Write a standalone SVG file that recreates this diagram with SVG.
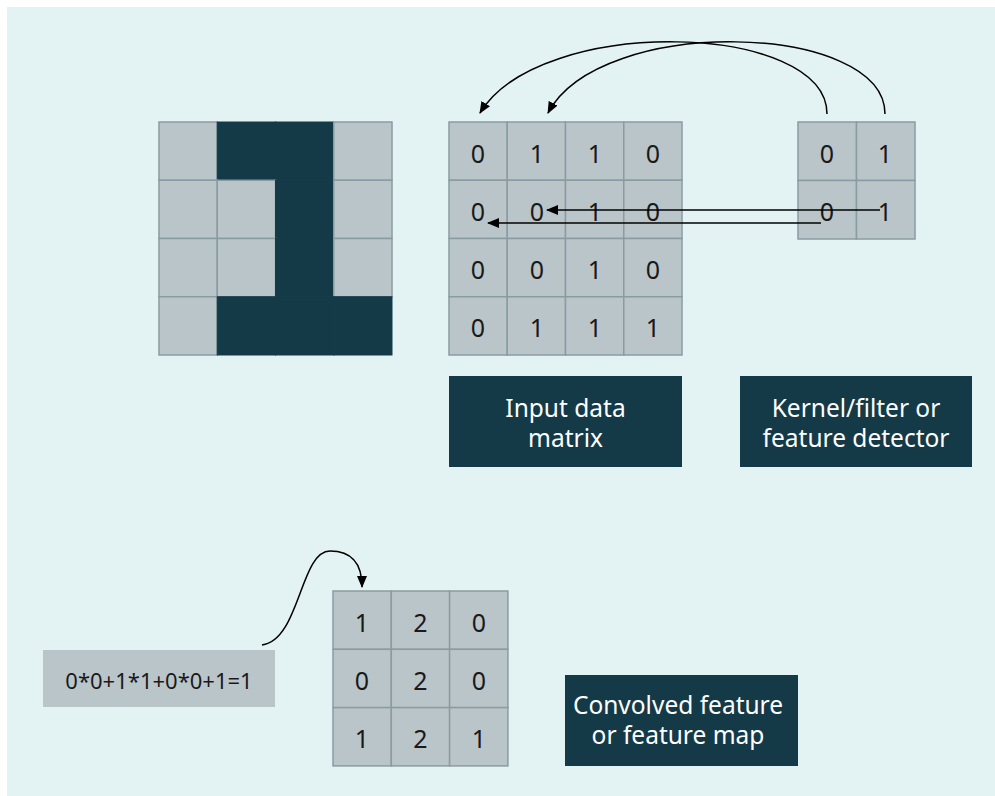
<svg xmlns="http://www.w3.org/2000/svg" width="995" height="796" viewBox="0 0 995 796">
<style>
.bg{fill:#E3F2F3}
.cell{fill:#BAC5C9;stroke:#8A9CA3;stroke-width:1.5}
.dark{fill:#143A48;stroke:#143A48;stroke-width:1}
.num{font-family:"Noto Sans","Open Sans",sans-serif;font-size:25px;fill:#1A1A1A;text-anchor:middle;dominant-baseline:central}
.lbl{font-family:"Noto Sans","Open Sans",sans-serif;font-size:24.5px;fill:#FFFFFF;text-anchor:middle}
.formula{font-family:"Noto Sans","Open Sans",sans-serif;font-size:22px;fill:#1A1A1A;text-anchor:middle;dominant-baseline:central}
.conn{fill:none;stroke:#000;stroke-width:1.5}
</style>
<defs>
<marker id="ah" viewBox="0 0 12 10" refX="11" refY="5" markerWidth="12" markerHeight="10" markerUnits="userSpaceOnUse" orient="auto">
<path d="M0,0 L12,5 L0,10 Z" fill="#000"/>
</marker>
</defs>
<rect class="bg" x="7" y="7" width="988" height="789"/>

<g id="image-one">
<rect class="cell" x="159" y="122" width="58.25" height="58.25"/>
<rect class="dark" x="217.25" y="122" width="58.25" height="58.25"/>
<rect class="dark" x="275.5" y="122" width="58.25" height="58.25"/>
<rect class="cell" x="333.75" y="122" width="58.25" height="58.25"/>
<rect class="cell" x="159" y="180.25" width="58.25" height="58.25"/>
<rect class="cell" x="217.25" y="180.25" width="58.25" height="58.25"/>
<rect class="dark" x="275.5" y="180.25" width="58.25" height="58.25"/>
<rect class="cell" x="333.75" y="180.25" width="58.25" height="58.25"/>
<rect class="cell" x="159" y="238.5" width="58.25" height="58.25"/>
<rect class="cell" x="217.25" y="238.5" width="58.25" height="58.25"/>
<rect class="dark" x="275.5" y="238.5" width="58.25" height="58.25"/>
<rect class="cell" x="333.75" y="238.5" width="58.25" height="58.25"/>
<rect class="cell" x="159" y="296.75" width="58.25" height="58.25"/>
<rect class="dark" x="217.25" y="296.75" width="58.25" height="58.25"/>
<rect class="dark" x="275.5" y="296.75" width="58.25" height="58.25"/>
<rect class="dark" x="333.75" y="296.75" width="58.25" height="58.25"/>
</g>

<g id="input-matrix">
<rect class="cell" x="449" y="122" width="58.25" height="58.25"/>
<rect class="cell" x="507.25" y="122" width="58.25" height="58.25"/>
<rect class="cell" x="565.5" y="122" width="58.25" height="58.25"/>
<rect class="cell" x="623.75" y="122" width="58.25" height="58.25"/>
<rect class="cell" x="449" y="180.25" width="58.25" height="58.25"/>
<rect class="cell" x="507.25" y="180.25" width="58.25" height="58.25"/>
<rect class="cell" x="565.5" y="180.25" width="58.25" height="58.25"/>
<rect class="cell" x="623.75" y="180.25" width="58.25" height="58.25"/>
<rect class="cell" x="449" y="238.5" width="58.25" height="58.25"/>
<rect class="cell" x="507.25" y="238.5" width="58.25" height="58.25"/>
<rect class="cell" x="565.5" y="238.5" width="58.25" height="58.25"/>
<rect class="cell" x="623.75" y="238.5" width="58.25" height="58.25"/>
<rect class="cell" x="449" y="296.75" width="58.25" height="58.25"/>
<rect class="cell" x="507.25" y="296.75" width="58.25" height="58.25"/>
<rect class="cell" x="565.5" y="296.75" width="58.25" height="58.25"/>
<rect class="cell" x="623.75" y="296.75" width="58.25" height="58.25"/>
<text class="num" x="478" y="153">0</text>
<text class="num" x="537" y="153">1</text>
<text class="num" x="595" y="153">1</text>
<text class="num" x="653" y="153">0</text>
<text class="num" x="478" y="211">0</text>
<text class="num" x="537" y="211">0</text>
<text class="num" x="595" y="211">1</text>
<text class="num" x="653" y="211">0</text>
<text class="num" x="478" y="269">0</text>
<text class="num" x="537" y="269">0</text>
<text class="num" x="595" y="269">1</text>
<text class="num" x="653" y="269">0</text>
<text class="num" x="478" y="327">0</text>
<text class="num" x="537" y="327">1</text>
<text class="num" x="595" y="327">1</text>
<text class="num" x="653" y="327">1</text>
</g>

<g id="kernel">
<rect class="cell" x="798" y="122" width="58.5" height="58.5"/>
<rect class="cell" x="856.5" y="122" width="58.5" height="58.5"/>
<rect class="cell" x="798" y="180.5" width="58.5" height="58.5"/>
<rect class="cell" x="856.5" y="180.5" width="58.5" height="58.5"/>
<text class="num" x="827" y="153">0</text>
<text class="num" x="885" y="153">1</text>
<text class="num" x="827" y="211">0</text>
<text class="num" x="885" y="211">1</text>
</g>

<g id="label-input">
<rect x="449" y="376" width="233" height="91" fill="#143A48"/>
<text class="lbl" x="565.5" y="417">Input data</text>
<text class="lbl" x="565.5" y="447">matrix</text>
</g>

<g id="label-kernel">
<rect x="740" y="376" width="232" height="91" fill="#143A48"/>
<text class="lbl" x="856" y="417">Kernel/filter or</text>
<text class="lbl" x="856" y="447">feature detector</text>
</g>

<g id="formula">
<rect x="43" y="650" width="232" height="57" fill="#BAC5C9"/>
<text class="formula" x="159" y="680">0*0+1*1+0*0+1=1</text>
</g>

<g id="feature-map">
<rect class="cell" x="333" y="591" width="58.3" height="58.3"/>
<rect class="cell" x="391.3" y="591" width="58.3" height="58.3"/>
<rect class="cell" x="449.6" y="591" width="58.3" height="58.3"/>
<rect class="cell" x="333" y="649.3" width="58.3" height="58.3"/>
<rect class="cell" x="391.3" y="649.3" width="58.3" height="58.3"/>
<rect class="cell" x="449.6" y="649.3" width="58.3" height="58.3"/>
<rect class="cell" x="333" y="707.6" width="58.3" height="58.3"/>
<rect class="cell" x="391.3" y="707.6" width="58.3" height="58.3"/>
<rect class="cell" x="449.6" y="707.6" width="58.3" height="58.3"/>
<text class="num" x="362" y="622">1</text>
<text class="num" x="420.5" y="622">2</text>
<text class="num" x="479" y="622">0</text>
<text class="num" x="362" y="680">0</text>
<text class="num" x="420.5" y="680">2</text>
<text class="num" x="479" y="680">0</text>
<text class="num" x="362" y="738">1</text>
<text class="num" x="420.5" y="738">2</text>
<text class="num" x="479" y="738">1</text>
</g>

<g id="label-feature-map">
<rect x="565" y="675" width="233" height="91" fill="#143A48"/>
<text class="lbl" x="678" y="714">Convolved feature</text>
<text class="lbl" x="678" y="744">or feature map</text>
</g>

<g id="connectors">
<path class="conn" d="M827,114 C827,22 540,14 480,113" marker-end="url(#ah)"/>
<path class="conn" d="M885,114 C885,22 600,14 548,113" marker-end="url(#ah)"/>
<path class="conn" d="M880,210 L547,210" marker-end="url(#ah)"/>
<path class="conn" d="M821,223 L488,223" marker-end="url(#ah)"/>
<path class="conn" d="M262,645 C300,640 300,551 330,551 C355,551 362,568 362,587" marker-end="url(#ah)"/>
</g>
</svg>
